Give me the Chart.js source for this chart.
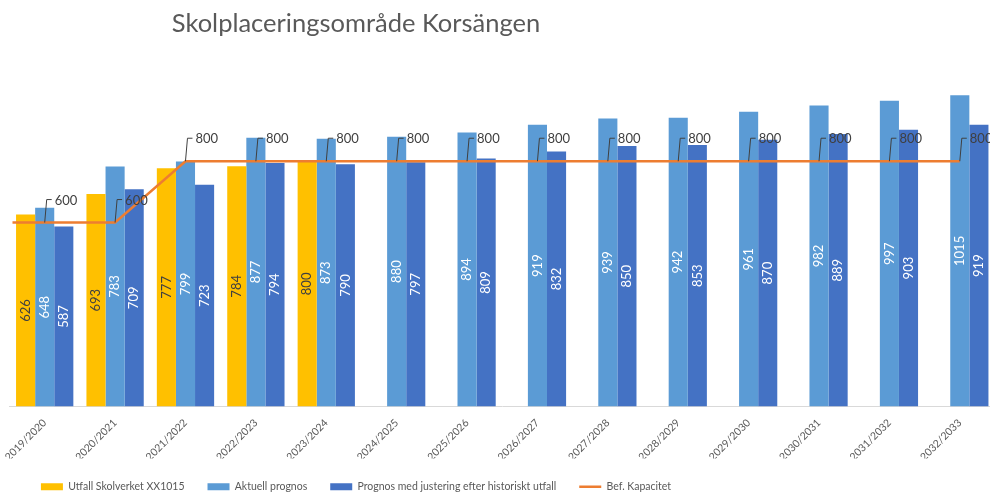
<!DOCTYPE html>
<html lang="sv">
<head>
<meta charset="utf-8">
<title>Skolplaceringsområde Korsängen</title>
<script src="https://cdn.jsdelivr.net/npm/chart.js@4.4.1/dist/chart.umd.min.js"></script>
<style>
    html, body { margin: 0; padding: 0; background: #fff; overflow: hidden; width: 990px; height: 493px; }
    /* the reference is a crop of a wider chart, so the canvas sticks out on both sides */
    #wrap { position: absolute; left: -283px; top: 0; width: 1278px; height: 493px; }
</style>
</head>
<body>
<div id="wrap"><canvas id="chart"></canvas></div>
<script>
const categories = [
    '2019/2020', '2020/2021', '2021/2022', '2022/2023', '2023/2024', '2024/2025', '2025/2026',
    '2026/2027', '2027/2028', '2028/2029', '2029/2030', '2030/2031', '2031/2032', '2032/2033'
];
const utfall = [626, 693, 777, 784, 800, null, null, null, null, null, null, null, null, null];
const aktuellPrognos = [648, 783, 799, 877, 873, 880, 894, 919, 939, 942, 961, 982, 997, 1015];
const justeradPrognos = [587, 709, 723, 794, 790, 797, 809, 832, 850, 853, 870, 889, 903, 919];
const kapacitet = [600, 600, 800, 800, 800, 800, 800, 800, 800, 800, 800, 800, 800, 800];

const FONT = 'Lato';
const TEXT_GRAY = '#595959';

// draws the values inside the bars and the callout labels on the capacity line
const valueLabels = {
    id: 'valueLabels',
    afterDatasetsDraw(chart) {
        const ctx = chart.ctx;
        const area = chart.chartArea;
        ctx.save();

        // capacity line continues to the left edge of the plot
        const lineIndex = chart.data.datasets.findIndex((d) => d.type === 'line');
        const first = chart.getDatasetMeta(lineIndex).data[0];
        ctx.strokeStyle = '#ED7D31';
        ctx.lineWidth = 2.5;
        ctx.beginPath();
        ctx.moveTo(area.left + 3, first.y);
        ctx.lineTo(first.x, first.y);
        ctx.stroke();

        ctx.font = '13px ' + FONT;
        chart.data.datasets.forEach((ds, i) => {
            const meta = chart.getDatasetMeta(i);
            meta.data.forEach((el, j) => {
                const v = ds.data[j];
                if (v == null) return;
                if (ds.type === 'line') {
                    ctx.strokeStyle = '#404040';
                    ctx.lineWidth = 1;
                    ctx.beginPath();
                    ctx.moveTo(el.x, el.y);
                    ctx.lineTo(el.x + 2, el.y - 23);
                    ctx.lineTo(el.x + 7, el.y - 23);
                    ctx.stroke();
                    ctx.fillStyle = '#404040';
                    ctx.textAlign = 'left';
                    ctx.textBaseline = 'middle';
                    ctx.fillText(String(v), el.x + 10, el.y - 22);
                } else {
                    ctx.save();
                    ctx.translate(el.x, (el.y + el.base) / 2);
                    ctx.rotate(-Math.PI / 2);
                    ctx.fillStyle = ds.labelColor;
                    ctx.textAlign = 'center';
                    ctx.textBaseline = 'middle';
                    ctx.fillText(String(v), 0, 0);
                    ctx.restore();
                }
            });
        });
        ctx.restore();
    }
};

const barDefaults = { categoryPercentage: 0.814, barPercentage: 1, borderWidth: 0, order: 1 };

new Chart(document.getElementById('chart'), {
    type: 'bar',
    data: {
        labels: categories,
        datasets: [
            { ...barDefaults, label: 'Utfall Skolverket XX1015', data: utfall, backgroundColor: '#FFC000', labelColor: '#404040' },
            { ...barDefaults, label: 'Aktuell prognos', data: aktuellPrognos, backgroundColor: '#5B9BD5', labelColor: '#ffffff' },
            { ...barDefaults, label: 'Prognos med justering efter historiskt utfall', data: justeradPrognos, backgroundColor: '#4472C4', labelColor: '#ffffff' },
            {
                type: 'line', label: 'Bef. Kapacitet', data: kapacitet, order: 0,
                borderColor: '#ED7D31', backgroundColor: '#ED7D31', borderWidth: 2.5,
                pointRadius: 0, tension: 0, fill: false
            }
        ]
    },
    options: {
        responsive: true,
        maintainAspectRatio: false,
        animation: false,
        layout: { padding: { left: 0, right: 0, top: 0, bottom: -9 } },
        plugins: {
            title: {
                display: true,
                text: 'Skolplaceringsområde Korsängen',
                color: TEXT_GRAY,
                font: { family: FONT, size: 25.5, weight: 'normal', lineHeight: 1.2 },
                padding: { top: 8, bottom: 0 }
            },
            legend: {
                position: 'bottom',
                labels: {
                    color: TEXT_GRAY,
                    font: { family: FONT, size: 10.5 },
                    usePointStyle: true,
                    pointStyleWidth: 22,
                    boxWidth: 22,
                    boxHeight: 7,
                    padding: 23,
                    sort: (a, b) => a.datasetIndex - b.datasetIndex,
                    generateLabels(chart) {
                        const items = Chart.defaults.plugins.legend.labels.generateLabels(chart);
                        items.forEach((it) => {
                            const ds = chart.data.datasets[it.datasetIndex];
                            it.pointStyle = ds.type === 'line' ? 'line' : 'rect';
                        });
                        return items;
                    }
                }
            },
            tooltip: { enabled: false }
        },
        scales: {
            x: {
                grid: { display: false, drawTicks: false },
                border: { display: true, color: '#D9D9D9', width: 1 },
                ticks: {
                    color: TEXT_GRAY,
                    font: { family: FONT, size: 10.5 },
                    minRotation: 45,
                    maxRotation: 45,
                    autoSkip: false,
                    padding: 10
                },
                afterFit(scale) {
                    scale.paddingLeft = 0;
                    scale.paddingRight = 0;
                    scale.height = 52;
                }
            },
            y: {
                min: 0,
                max: 1200,
                grid: { display: false },
                border: { display: false },
                ticks: { display: false },
                afterFit(scale) {
                    scale.width = 292.5;
                }
            }
        }
    },
    plugins: [valueLabels]
});
</script>
</body>
</html>
